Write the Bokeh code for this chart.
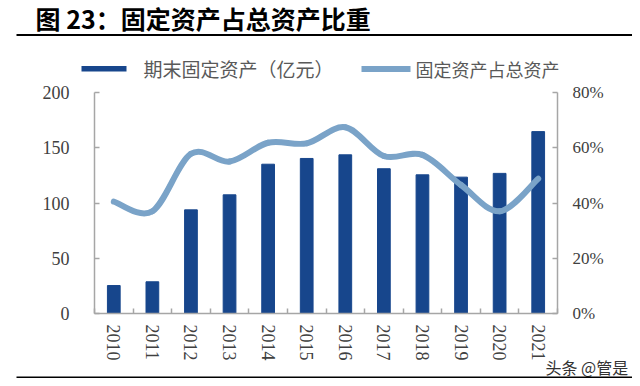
from bokeh.plotting import figure
from bokeh.layouts import column
from bokeh.models import Range1d, LinearAxis, FixedTicker, Label, BoxAnnotation
from bokeh.embed import file_html
from bokeh.resources import INLINE

# ---- data ----
years = ["2010", "2011", "2012", "2013", "2014", "2015",
         "2016", "2017", "2018", "2019", "2020", "2021"]
fixed_assets = [25.3, 28.7, 93.8, 107.4, 135.1, 140.3, 143.6, 131.0, 125.5, 123.4, 126.8, 164.6]
share_pct = [40.5, 37.0, 57.8, 55.0, 61.8, 61.6, 67.4, 57.0, 57.4, 46.5, 37.0, 48.8]
left_ticks = [0, 50, 100, 150, 200]
right_ticks = [0, 20, 40, 60, 80]

title_text = "图 23：固定资产占总资产比重"
bar_label = "期末固定资产（亿元）"
line_label = "固定资产占总资产"
watermark = "头条 @管是"

BAR = "#17468C"
LINE = "#7AA3C8"
AXIS = "#A6A6A6"
TICKTXT = "#404040"
LEGTXT = "#595959"
SERIF = "Liberation Serif"
CJK = "Noto Sans CJK SC"
W = 632


def blank(h, **kw):
    f = figure(frame_width=W, frame_height=h, min_border=0,
               min_border_left=0, min_border_right=0, min_border_top=0, min_border_bottom=0,
               x_range=Range1d(0, W), y_range=Range1d(h, 0),
               x_axis_location=None, y_axis_location=None, frame_align=False,
               output_backend="svg", toolbar_location=None, tools="", **kw)
    f.outline_line_color = None
    f.xgrid.visible = False
    f.ygrid.visible = False
    return f


# ---- header: title, rule, legend ----
HEAD = 82
head = blank(HEAD)
head.add_layout(Label(x=35, y=17, text=title_text, text_font=CJK, text_font_style="bold",
                      text_font_size="25px", text_color="black", text_baseline="middle"))
head.add_layout(BoxAnnotation(left=16, right=W, top=33.5, bottom=35.5,
                              fill_color="black", fill_alpha=1, line_color=None))
head.add_layout(BoxAnnotation(left=81, right=126, top=65.5, bottom=71,
                              fill_color=BAR, fill_alpha=1, line_color=None))
head.add_layout(Label(x=143, y=68, text=bar_label, text_font=CJK, text_font_size="19px",
                      text_color=LEGTXT, text_baseline="middle"))
head.add_layout(BoxAnnotation(left=361, right=410, top=65.5, bottom=71.5,
                              fill_color=LINE, fill_alpha=1, line_color=None))
head.add_layout(Label(x=415, y=68, text=line_label, text_font=CJK, text_font_size="18px",
                      text_color=LEGTXT, text_baseline="middle"))

# ---- main chart ----
n = len(years)
xs = list(range(n))

p = figure(frame_width=463, frame_height=221,
           min_border_left=94, min_border_right=75, min_border_top=10, min_border_bottom=50,
           x_range=Range1d(-0.5, n - 0.5), y_range=Range1d(0, 200), frame_align=False,
           output_backend="svg", toolbar_location=None, tools="")
p.extra_y_ranges = {"pct": Range1d(0, 80)}
p.outline_line_color = None
p.xgrid.visible = False
p.ygrid.visible = False

p.vbar(x=xs, top=fixed_assets, width=0.33, fill_color=BAR, line_color=BAR)


def _get(arr, i):
    return arr[max(0, min(len(arr) - 1, i))]


# smooth curve through the share values (Catmull-Rom style bezier control points)
x0, y0, x1, y1, cx0, cy0, cx1, cy1 = [], [], [], [], [], [], [], []
for i in range(n - 1):
    x0.append(xs[i]); y0.append(share_pct[i])
    x1.append(xs[i + 1]); y1.append(share_pct[i + 1])
    cx0.append(xs[i] + (_get(xs, i + 1) - _get(xs, i - 1)) / 6)
    cy0.append(share_pct[i] + (_get(share_pct, i + 1) - _get(share_pct, i - 1)) / 6)
    cx1.append(xs[i + 1] - (_get(xs, i + 2) - _get(xs, i)) / 6)
    cy1.append(share_pct[i + 1] - (_get(share_pct, i + 2) - _get(share_pct, i)) / 6)

p.bezier(x0=x0, y0=y0, x1=x1, y1=y1, cx0=cx0, cy0=cy0, cx1=cx1, cy1=cy1,
         line_color=LINE, line_width=6, line_cap="round", y_range_name="pct")

xa = p.xaxis[0]
xa.ticker = FixedTicker(ticks=xs, minor_ticks=[i - 0.5 for i in range(n + 1)])
xa.major_label_overrides = {i: y for i, y in zip(xs, years)}
xa.major_label_orientation = "vertical"
xa.major_tick_in = 0
xa.major_tick_out = 0
xa.minor_tick_in = 5
xa.minor_tick_out = 0
xa.minor_tick_line_color = AXIS
xa.minor_tick_line_width = 1.5
xa.major_label_standoff = 11

ya = p.yaxis[0]
ya.ticker = FixedTicker(ticks=left_ticks)
ya.major_tick_in = 5
ya.major_tick_out = 0
ya.minor_tick_line_color = None
ya.major_label_standoff = 25

ra = LinearAxis(y_range_name="pct", ticker=FixedTicker(ticks=right_ticks))
ra.major_label_overrides = {t: f"{t}%" for t in right_ticks}
ra.major_tick_in = 5
ra.major_tick_out = 0
ra.minor_tick_line_color = None
ra.major_label_standoff = 15
p.add_layout(ra, "right")

for ax in (xa, ya, ra):
    ax.axis_line_color = AXIS
    ax.axis_line_width = 1.5
    ax.major_tick_line_color = AXIS
    ax.major_tick_line_width = 1.5
    ax.major_label_text_font = SERIF
    ax.major_label_text_font_size = "18px"
    ax.major_label_text_color = TICKTXT
ra.major_label_text_font_size = "17px"

# ---- footer: watermark and bottom rule (overlaps the axis-label strip) ----
FOOT = 29
foot = blank(FOOT, margin=(-14, 0, 0, 0))
foot.background_fill_alpha = 0
foot.border_fill_alpha = 0
foot.add_layout(Label(x=545, y=17, text=watermark, text_font=CJK, text_font_size="16px",
                      text_color="#333333", text_baseline="middle"))
foot.add_layout(BoxAnnotation(left=16, right=W, top=27, bottom=29,
                              fill_color="black", fill_alpha=1, line_color=None))

layout = column(head, p, foot, spacing=0)
open("out.html", "w").write(file_html(layout, INLINE))
